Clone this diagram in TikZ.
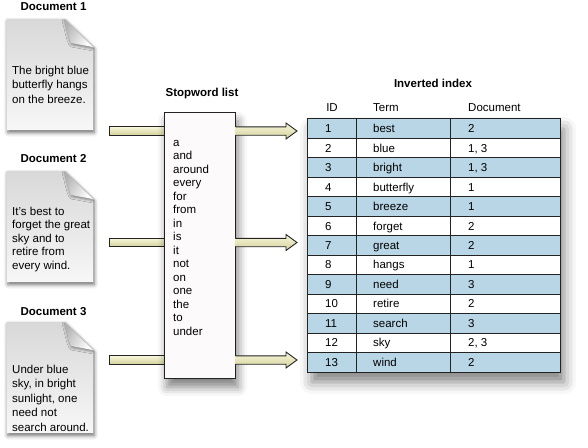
\documentclass[tikz,border=0pt]{standalone}
\usepackage{fontspec}
\setmainfont{Liberation Sans}
\usetikzlibrary{shadows.blur,calc}
\definecolor{rowblue}{RGB}{184,214,230}
\definecolor{arrowtop}{RGB}{247,246,218}
\definecolor{arrowbot}{RGB}{212,210,156}
\definecolor{pagetop}{RGB}{216,216,216}
\definecolor{pagebot}{RGB}{247,247,247}
\definecolor{boxfill}{RGB}{253,250,252}
\definecolor{edge}{RGB}{35,35,35}
\newcommand\linesof[1]{\begin{tabular}[t]{@{}l@{}}#1\end{tabular}}
\tikzset{
  lbl/.style={font=\fontsize{11.5}{13.5}\selectfont, inner sep=0pt},
  ttl/.style={font=\fontsize{11.5}{13.5}\selectfont\bfseries, inner sep=0pt},
  doctxt/.style={inner sep=0pt, anchor=base west},
  fatarrow/.style={draw=edge, line width=0.9pt, top color=arrowtop, bottom color=arrowbot, line join=miter},
  pagebody/.style={top color=pagetop, bottom color=pagebot,
     blur shadow={shadow blur radius=4pt, shadow xshift=1pt, shadow yshift=-2.5pt, shadow opacity=60}},
  pageflap/.style={left color=black!30, right color=white, shading angle=60,
     blur shadow={shadow blur radius=2.5pt, shadow xshift=0.5pt, shadow yshift=-1.5pt, shadow opacity=45}},
}
\newcommand\docpage[1]{%
  \path[pagebody] (7,#1) -- (64,#1) -- (93,#1+28) -- (93,#1+111) -- (7,#1+111) -- cycle;
  \path[pageflap] (64,#1) .. controls (67,#1+10) and (68,#1+18) .. (71,#1+24) -- (93,#1+28) -- cycle;
}
\begin{document}
\begin{tikzpicture}[x=1pt,y=-1pt]
\useasboundingbox (0,0) rectangle (588,447);

% ---------- documents ----------
\node[ttl] (t1) at (53.5,7) {Document 1};
\docpage{19}
\node[lbl,doctxt,font=\fontsize{11.5}{14.5}\selectfont] (d1) at (12,74) {\linesof{The bright blue\\butterfly hangs\\on the breeze.}};

\node[ttl] (t2) at (53.5,159) {Document 2};
\docpage{171}
\node[lbl,doctxt,font=\fontsize{11.5}{13.5}\selectfont] (d2) at (12,215) {\linesof{It's best to\\forget the great\\sky and to\\retire from\\every wind.}};

\node[ttl] (t3) at (53.5,312) {Document 3};
\docpage{322}
\node[lbl,doctxt,font=\fontsize{11.5}{14.5}\selectfont] (d3) at (12,373) {\linesof{Under blue\\sky, in bright\\sunlight, one\\need not\\search around.}};

% ---------- arrow coordinates ----------
\coordinate (in1) at (109,131);
\coordinate (in2) at (109,242.5);
\coordinate (in3) at (109,360);
\coordinate (tip1) at (297,131);
\coordinate (tip2) at (297,242.5);
\coordinate (tip3) at (297,360);

\coordinate (sw) at (164,245);
\foreach \k in {1,2,3}{
  \path[fatarrow] ($(in\k)+(0,-4.2)$) rectangle ($(sw |- in\k)+(4,4.2)$);
}

% ---------- stopword box ----------
\node[ttl] (swt) at (202,94) {Stopword list};
\node[draw=edge, line width=1pt, fill=boxfill, minimum width=71pt, minimum height=266pt, inner sep=0pt,
  blur shadow={shadow blur radius=9pt, shadow xshift=3pt, shadow yshift=-9pt, shadow opacity=50}] (stop) at (199.5,245) {};
\node[lbl,doctxt] (words) at (173,146) {\linesof{a\\and\\around\\every\\for\\from\\in\\is\\it\\not\\on\\one\\the\\to\\under}};

\foreach \k in {1,2,3}{
  \path[fatarrow] ($(stop.east |- tip\k)+(0,-4.2)$) -- ($(tip\k)+(-11,-4.2)$) -- ($(tip\k)+(-11,-8)$) -- (tip\k)
     -- ($(tip\k)+(-11,8)$) -- ($(tip\k)+(-11,4.2)$) -- ($(stop.east |- tip\k)+(0,4.2)$);
}

% ---------- inverted index ----------
\node[ttl] (iit) at (433,83) {Inverted index};
\node[lbl,anchor=base] (hid) at (332,111) {ID};
\node[lbl,anchor=base west] (hterm) at (373,111) {Term};
\node[lbl,anchor=base west] (hdoc) at (468,111) {Document};

\node[fill=white, minimum width=252pt, minimum height=253pt, inner sep=0pt,
  blur shadow={shadow blur radius=12pt, shadow xshift=4pt, shadow yshift=-10pt, shadow opacity=50}] (tbl) at (434,245.5) {};

\foreach \i/\t/\d in {1/best/2, 2/blue/{1, 3}, 3/bright/{1, 3}, 4/butterfly/1, 5/breeze/1, 6/forget/2, 7/great/2,
                      8/hangs/1, 9/need/3, 10/retire/2, 11/search/3, 12/sky/{2, 3}, 13/wind/2}{
  \pgfmathsetmacro\top{119+(\i-1)*253/13}
  \pgfmathsetmacro\bas{\top+253/26+4}
  \pgfmathtruncatemacro\odd{mod(\i,2)}
  \ifnum\odd=1 \fill[rowblue] (308,\top) rectangle (560,\top+253/13); \fi
  \node[lbl,anchor=base west] (id\i) at (325,\bas) {\i};
  \node[lbl,anchor=base west] (term\i) at (373,\bas) {\t};
  \node[lbl,anchor=base west] (doc\i) at (468,\bas) {\d};
}
\foreach \i in {1,...,12}{
  \draw[edge, line width=0.9pt] (308,119+\i*253/13) -- (560,119+\i*253/13);
}
\draw[edge, line width=0.9pt] (356,119) -- (356,372);
\draw[edge, line width=0.9pt] (450,119) -- (450,372);
\draw[edge, line width=1.1pt] (tbl.south west) rectangle (tbl.north east);
\end{tikzpicture}
\end{document}
